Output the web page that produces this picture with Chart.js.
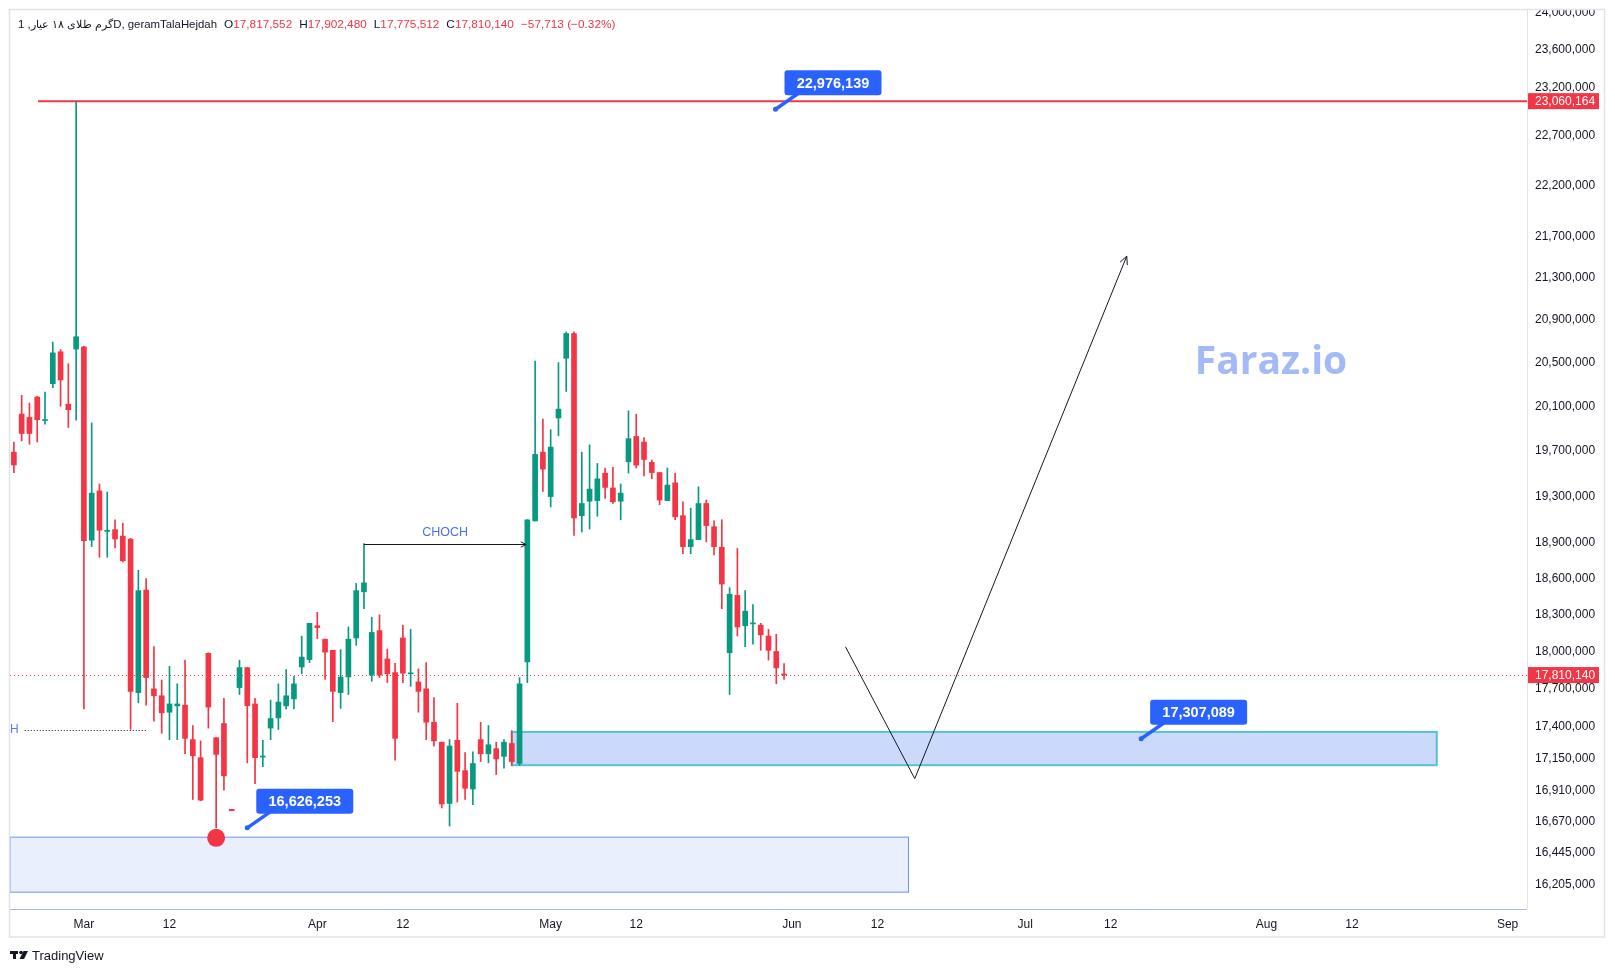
<!DOCTYPE html>
<html>
<head>
<meta charset="utf-8">
<script src="https://cdn.jsdelivr.net/npm/chart.js@4.4.1/dist/chart.umd.min.js"></script>
<style>
  html, body { margin: 0; padding: 0; background: #fff; }
  canvas { display: block; }
</style>
</head>
<body>
<canvas id="priceChart" width="1615" height="973"></canvas>
<script>
// daily bars, one market holiday in March
const firstDay = '2024-02-21';
const closedDays = ['2024-03-21'];
const totalSlots = 195;

const opens = [
  19690000, 20030000, 20000000, 20185000, 19972000, 20306000, 20600000, 20120000, 20625000, 20645000,
  18925000, 19350000, 19000000, 19015000, 18960000, 18935000, 17670000, 18505000, 17700000, 17645000,
  17515000, 17565000, 17570000, 17300000, 17160000, 17985000, 17315000, 17426000, 16765000, 17710000,
  17870000, 17580000, 17165000, 17390000, 17470000, 17565000, 17620000, 17875000, 17935000, 18210000,
  18100000, 18010000, 17670000, 17795000, 18110000, 18490000, 17810000, 18170000, 17940000, 17830000,
  18110000, 17820000, 17755000, 17700000, 17436000, 17280000, 16810000, 17295000, 17060000, 16920000,
  17300000, 17190000, 17230000, 17170000, 17270000, 17115000, 17915000, 19090000, 19690000, 19300000,
  19995000, 20540000, 20770000, 19135000, 19260000, 19265000, 19505000, 19375000, 19260000, 19605000,
  19830000, 19780000, 19600000, 19510000, 19265000, 19420000, 19135000, 18870000, 18930000, 19240000,
  19040000, 18865000, 17990000, 18460000, 18210000, 18225000, 18215000, 18125000, 18000000, 17817552
];
const highs = [
  19780000, 20200000, 20130000, 20190000, 20230000, 20690000, 20620000, 20490000, 23060164, 20650000,
  19950000, 19410000, 19340000, 19100000, 19070000, 18940000, 18670000, 18600000, 18040000, 17770000,
  17880000, 17740000, 17930000, 17410000, 17290000, 17990000, 17315000, 17625000, 16765000, 17930000,
  17870000, 17625000, 17295000, 17610000, 17740000, 17855000, 17800000, 18125000, 18230000, 18320000,
  18100000, 18010000, 18015000, 18200000, 18560000, 18895000, 18280000, 18300000, 18020000, 17905000,
  18215000, 18180000, 17860000, 17910000, 17630000, 17280000, 17300000, 17585000, 17200000, 17205000,
  17435000, 17410000, 17280000, 17300000, 17370000, 17790000, 19100000, 20515000, 19985000, 19890000,
  20500000, 20785000, 20785000, 19690000, 19755000, 19590000, 19550000, 19555000, 19410000, 20060000,
  20030000, 19820000, 19620000, 19510000, 19550000, 19505000, 19255000, 19200000, 19385000, 19270000,
  19090000, 19100000, 18525000, 18855000, 18500000, 18385000, 18230000, 18180000, 18140000, 17902480
];
const lows = [
  19510000, 19790000, 19760000, 19780000, 19940000, 20270000, 20100000, 19910000, 19975000, 17540000,
  18870000, 18780000, 18780000, 18860000, 18740000, 17380000, 17590000, 17570000, 17444000, 17350000,
  17300000, 17300000, 17190000, 16840000, 16830000, 17390000, 16626253, 16910000, 16755000, 17655000,
  17120000, 16960000, 17090000, 17300000, 17380000, 17540000, 17540000, 17820000, 17910000, 18105000,
  17775000, 17440000, 17545000, 17655000, 18050000, 18350000, 17760000, 17790000, 17750000, 17140000,
  17750000, 17720000, 17515000, 17300000, 17250000, 16776000, 16640000, 16820000, 16840000, 16800000,
  17130000, 17120000, 17030000, 17080000, 17100000, 17100000, 17750000, 19090000, 19345000, 19210000,
  19835000, 20235000, 18965000, 18995000, 19020000, 19130000, 19285000, 19240000, 19100000, 19505000,
  19550000, 19480000, 19455000, 19230000, 19265000, 19100000, 18810000, 18810000, 18930000, 18910000,
  18800000, 18350000, 17655000, 18125000, 18040000, 18060000, 18010000, 17930000, 17740000, 17775512
];
const closes = [
  19576000, 19856000, 19856000, 19980000, 19978000, 20590000, 20340000, 20070000, 20740000, 18920000,
  19330000, 19010000, 19010000, 18935000, 18750000, 17680000, 18500000, 17790000, 17645000, 17510000,
  17580000, 17580000, 17310000, 17175000, 16835000, 17555000, 17185000, 17020000, 16755000, 17870000,
  17567000, 17160000, 17170000, 17465000, 17595000, 17645000, 17740000, 17955000, 18230000, 18195000,
  17995000, 17680000, 17795000, 18100000, 18500000, 18565000, 18155000, 17810000, 17820000, 17310000,
  17825000, 17825000, 17680000, 17436000, 17290000, 16806000, 17250000, 17055000, 16925000, 17115000,
  17190000, 17260000, 17150000, 17280000, 17130000, 17740000, 19100000, 19670000, 19540000, 19735000,
  20075000, 20770000, 19115000, 19240000, 19365000, 19455000, 19380000, 19255000, 19330000, 19810000,
  19575000, 19625000, 19510000, 19270000, 19400000, 19125000, 18870000, 18930000, 19240000, 19050000,
  18870000, 18555000, 18470000, 18200000, 18330000, 18230000, 18135000, 18010000, 17867853, 17810140
];

const timeTicks = ['2024-03-01', '2024-03-12', '2024-04-01', '2024-04-12', '2024-05-01', '2024-05-12',
  '2024-06-01', '2024-06-12', '2024-07-01', '2024-07-12', '2024-08-01', '2024-08-12', '2024-09-01'];
const timeTickText = ['Mar', '12', 'Apr', '12', 'May', '12', 'Jun', '12', 'Jul', '12', 'Aug', '12', 'Sep'];

const priceTicks = [24000000, 23600000, 23200000, 22700000, 22200000, 21700000, 21300000, 20900000,
  20500000, 20100000, 19700000, 19300000, 18900000, 18600000, 18300000, 18000000, 17700000, 17400000,
  17150000, 16910000, 16670000, 16445000, 16205000];

const symbolTitle = 'گرم طلای ۱۸ عیار, 1D, geramTalaHejdah';
const athLevel = 23060164;
const calloutValues = [22976139, 16626253, 17307089];
const calloutBars = [97.9, 30, 144.9];

const UP = '#089981';
const DOWN = '#f23645';
const TEXT = '#131722';

const dates = [];
for (let d = new Date(firstDay + 'T00:00:00Z'); dates.length < totalSlots; d.setUTCDate(d.getUTCDate() + 1)) {
  const s = d.toISOString().slice(0, 10);
  if (!closedDays.includes(s)) dates.push(s);
}

const bodies = opens.map((o, i) => [o, closes[i]]);
const wicks = lows.map((l, i) => [l, highs[i]]);
const candleColors = opens.map((o, i) => (closes[i] >= o ? UP : DOWN));
const last = opens.length - 1;
const fmt = v => Math.round(v).toLocaleString('en-US');

const drawings = {
  id: 'drawings',
  beforeDatasetsDraw(chart) {
    const { ctx, chartArea: a, scales: { x, y } } = chart;
    const x0 = x.getPixelForValue(0);
    const step = x.getPixelForValue(1) - x0;
    const fx = i => x0 + i * step;
    ctx.save();
    ctx.beginPath();
    ctx.rect(a.left, a.top, a.right - a.left, a.bottom - a.top);
    ctx.clip();

    // demand zones
    const zones = [
      { from: -0.5, to: 115, top: 16557000, bottom: 16152000, fill: '#e9effd', stroke: '#6f92e6', lw: 1 },
      { from: 64, to: 182.9, top: 17360000, bottom: 17102000, fill: '#cbd9fb', stroke: '#55c3d6', lw: 2 },
    ];
    zones.forEach(z => {
      const l = fx(z.from), r = fx(z.to), t = y.getPixelForValue(z.top), b = y.getPixelForValue(z.bottom);
      ctx.fillStyle = z.fill;
      ctx.fillRect(l, t, r - l, b - t);
      ctx.strokeStyle = z.stroke;
      ctx.lineWidth = z.lw;
      ctx.strokeRect(l, t, r - l, b - t);
    });

    // watermark
    ctx.fillStyle = '#a4b9f8';
    ctx.font = 'bold 39px "Open Sans"';
    ctx.textAlign = 'center';
    ctx.textBaseline = 'alphabetic';
    ctx.fillText('Faraz.io', fx(161.6), y.getPixelForValue(20395000));

    // H level
    const hy = Math.round(y.getPixelForValue(17373000)) + 0.5;
    ctx.strokeStyle = '#131722';
    ctx.lineWidth = 1;
    ctx.setLineDash([1, 2]);
    ctx.beginPath();
    ctx.moveTo(fx(1.4), hy);
    ctx.lineTo(fx(17), hy);
    ctx.stroke();
    ctx.setLineDash([]);
    ctx.fillStyle = '#5a7be8';
    ctx.font = '12px "Liberation Sans"';
    ctx.textAlign = 'left';
    ctx.textBaseline = 'middle';
    ctx.fillText('H', a.left + 0, hy - 1);
    ctx.restore();
  },
  afterDatasetsDraw(chart) {
    const { ctx, chartArea: a, scales: { x, y } } = chart;
    const x0 = x.getPixelForValue(0);
    const step = x.getPixelForValue(1) - x0;
    const fx = i => x0 + i * step;
    const arrowHead = (px, py, ang, len) => {
      ctx.beginPath();
      ctx.moveTo(px - len * Math.cos(ang - 0.45), py - len * Math.sin(ang - 0.45));
      ctx.lineTo(px, py);
      ctx.lineTo(px - len * Math.cos(ang + 0.45), py - len * Math.sin(ang + 0.45));
      ctx.stroke();
    };
    ctx.save();
    ctx.beginPath();
    ctx.rect(a.left, a.top, a.right - a.left, a.bottom - a.top);
    ctx.clip();

    // all-time-high line
    const ay = y.getPixelForValue(athLevel);
    ctx.strokeStyle = DOWN;
    ctx.lineWidth = 2;
    ctx.beginPath();
    ctx.moveTo(fx(3.1), ay);
    ctx.lineTo(a.right, ay);
    ctx.stroke();

    // last price dotted line
    const ly = Math.round(y.getPixelForValue(closes[last])) + 0.5;
    ctx.lineWidth = 1;
    ctx.setLineDash([1, 3]);
    ctx.beginPath();
    ctx.moveTo(a.left, ly);
    ctx.lineTo(a.right, ly);
    ctx.stroke();
    ctx.setLineDash([]);

    // CHOCH
    const cy = Math.round(y.getPixelForValue(highs[45])) + 0.5;
    const cx1 = fx(45), cx2 = fx(65.85);
    ctx.strokeStyle = '#131722';
    ctx.lineWidth = 1;
    ctx.beginPath();
    ctx.moveTo(cx1, cy);
    ctx.lineTo(cx2, cy);
    ctx.stroke();
    arrowHead(cx2, cy, 0, 6);
    ctx.fillStyle = '#4a72e8';
    ctx.font = '12.5px "Liberation Sans"';
    ctx.textAlign = 'center';
    ctx.textBaseline = 'bottom';
    ctx.fillText('CHOCH', (cx1 + cx2) / 2, cy - 6);

    // projected path
    const path = [[106.9, 18038000], [115.8, 16999000], [143.05, 21506000]];
    const pts = path.map(p => [fx(p[0]), y.getPixelForValue(p[1])]);
    ctx.beginPath();
    pts.forEach((p, i) => (i ? ctx.lineTo(p[0], p[1]) : ctx.moveTo(p[0], p[1])));
    ctx.stroke();
    const pe = pts[2], pb = pts[1];
    arrowHead(pe[0], pe[1], Math.atan2(pe[1] - pb[1], pe[0] - pb[0]), 9);

    // low marker
    ctx.fillStyle = DOWN;
    ctx.beginPath();
    ctx.arc(fx(26), y.getPixelForValue(lows[26]) + 10, 9, 0, Math.PI * 2);
    ctx.fill();

    // price callouts
    calloutValues.forEach((v, k) => {
      const px = fx(calloutBars[k]), py = y.getPixelForValue(v);
      const bx = px + 9, by = py - 39, w = 97, h = 25;
      ctx.fillStyle = '#2962ff';
      ctx.strokeStyle = '#2962ff';
      ctx.lineWidth = 3.5;
      ctx.lineCap = 'round';
      ctx.beginPath();
      ctx.moveTo(px, py);
      ctx.lineTo(bx + 14, by + h - 2);
      ctx.stroke();
      ctx.lineCap = 'butt';
      ctx.beginPath();
      ctx.arc(px, py, 2.5, 0, Math.PI * 2);
      ctx.fill();
      ctx.beginPath();
      ctx.roundRect(bx, by, w, h, 3);
      ctx.fill();
      ctx.fillStyle = '#ffffff';
      ctx.font = 'bold 14.5px "Liberation Sans"';
      ctx.textAlign = 'center';
      ctx.textBaseline = 'middle';
      ctx.fillText(fmt(v), bx + w / 2, by + h / 2 + 1);
    });
    ctx.restore();
  },
  afterDraw(chart) {
    const { ctx, chartArea: a, scales: { y } } = chart;
    ctx.save();
    // price axis is clipped at the frame top
    ctx.fillStyle = '#ffffff';
    ctx.fillRect(a.right + 1, 0, 100, 10);

    // pane borders
    ctx.strokeStyle = '#e0e3eb';
    ctx.lineWidth = 1;
    ctx.beginPath();
    ctx.moveTo(a.right + 0.5, a.top);
    ctx.lineTo(a.right + 0.5, a.bottom);
    ctx.stroke();
    ctx.strokeStyle = '#a9b9e0';
    ctx.beginPath();
    ctx.moveTo(a.left, a.bottom + 0.5);
    ctx.lineTo(a.right, a.bottom + 0.5);
    ctx.stroke();
    ctx.strokeStyle = '#e0e3eb';
    ctx.lineWidth = 1.5;
    ctx.strokeRect(9.5, 9.5, 1595, 927.5);

    // price axis tags
    const tag = v => {
      const ty = y.getPixelForValue(v);
      ctx.fillStyle = DOWN;
      ctx.fillRect(a.right + 1, ty - 8, 71, 16);
      ctx.fillStyle = '#ffffff';
      ctx.font = '12px "Liberation Sans"';
      ctx.textAlign = 'left';
      ctx.textBaseline = 'middle';
      ctx.fillText(fmt(v), a.right + 8, ty + 0.5);
    };
    tag(athLevel);
    tag(closes[last]);

    // header
    ctx.textBaseline = 'middle';
    ctx.textAlign = 'left';
    ctx.direction = 'ltr';
    let hx = 18;
    const hy = 25;
    const put = (s, color, gap) => {
      ctx.fillStyle = color;
      ctx.fillText(s, hx, hy);
      hx += ctx.measureText(s).width + gap;
    };
    ctx.font = '11.4px "Liberation Sans"';
    put(symbolTitle, TEXT, 7);
    ctx.font = '11.8px "Liberation Sans"';
    put('O', TEXT, 0); put(fmt(opens[last]), DOWN, 7);
    put('H', TEXT, 0); put(fmt(highs[last]), DOWN, 7);
    put('L', TEXT, 0); put(fmt(lows[last]), DOWN, 7);
    put('C', TEXT, 0); put(fmt(closes[last]), DOWN, 7);
    const ch = closes[last] - closes[last - 1];
    const pct = (ch / closes[last - 1] * 100).toFixed(2);
    put('\u2212' + fmt(Math.abs(ch)) + ' (\u2212' + Math.abs(pct).toFixed(2) + '%)', DOWN, 0);

    // logo
    ctx.fillStyle = TEXT;
    ctx.fillRect(10, 951, 8, 3);
    ctx.fillRect(13, 951, 3, 8);
    ctx.beginPath();
    ctx.arc(21, 952.5, 1.8, 0, Math.PI * 2);
    ctx.fill();
    ctx.beginPath();
    ctx.moveTo(23.5, 951); ctx.lineTo(28, 951); ctx.lineTo(24, 959); ctx.lineTo(19.5, 959);
    ctx.closePath();
    ctx.fill();
    ctx.font = '13px "Liberation Sans"';
    ctx.fillText('TradingView', 32, 956);
    ctx.restore();
  }
};

new Chart(document.getElementById('priceChart'), {
  type: 'bar',
  data: {
    labels: dates,
    datasets: [
      {
        label: 'body',
        data: bodies,
        backgroundColor: candleColors,
        barThickness: 5,
        minBarLength: 1,
        grouped: false,
      },
      {
        label: 'wick',
        data: wicks,
        backgroundColor: candleColors,
        barThickness: 1,
        grouped: false,
      },
    ]
  },
  options: {
    responsive: false,
    animation: false,
    layout: { padding: { left: 10, top: 10, right: 0, bottom: 0 } },
    plugins: {
      legend: { display: false },
      tooltip: { enabled: false },
    },
    scales: {
      x: {
        offset: true,
        grid: { display: false, drawTicks: false },
        border: { display: false },
        ticks: {
          autoSkip: false,
          maxRotation: 0,
          padding: 8,
          color: TEXT,
          font: { family: 'Liberation Sans', size: 12 },
          callback(v) {
            const k = timeTicks.indexOf(dates[v]);
            return k < 0 ? '' : timeTickText[k];
          },
        },
        afterFit(s) {
          s.height = 64;
          s.paddingLeft = 0;
          s.paddingRight = 0;
        },
      },
      y: {
        type: 'logarithmic',
        position: 'right',
        min: 16030000,
        max: 24026000,
        grid: { display: false, drawTicks: false },
        border: { display: false },
        afterBuildTicks(s) { s.ticks = priceTicks.map(v => ({ value: v })); },
        ticks: {
          padding: 8,
          color: TEXT,
          font: { family: 'Liberation Sans', size: 12 },
          callback: v => fmt(v),
        },
        afterFit(s) {
          s.width = 88;
          s.paddingTop = 0;
          s.paddingBottom = 0;
        },
      }
    }
  },
  plugins: [drawings]
});
</script>
</body>
</html>
